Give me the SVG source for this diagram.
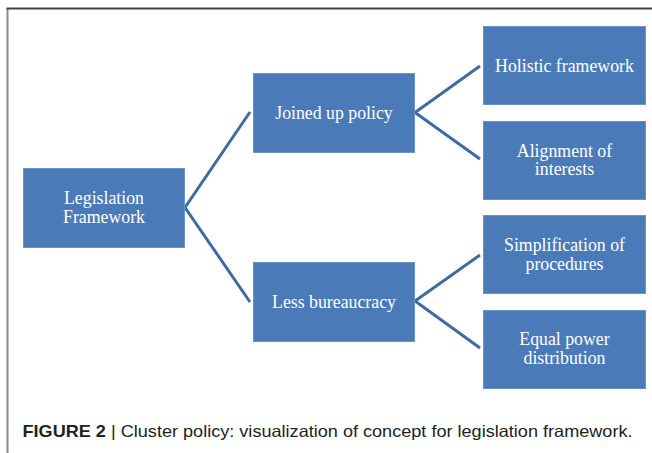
<svg xmlns="http://www.w3.org/2000/svg" width="652" height="453" viewBox="0 0 652 453">
  <style>
    .box { fill: #4a7bb8; stroke: #6a94c8; stroke-width: 1; }
    .lbl { fill: #ffffff; font-family: "Liberation Serif", "Times New Roman", serif; font-size: 17.8px; text-anchor: middle; }
    .link { fill: none; stroke: #3f6ba3; stroke-width: 3; stroke-linejoin: miter; }
    .cap { font-family: "Liberation Sans", Arial, sans-serif; font-size: 16.5px; fill: #222222; }
  </style>
  <rect width="652" height="453" fill="#ffffff"/>
  <!-- frame -->
  <line x1="7.5" y1="8" x2="7.5" y2="453" stroke="#8a8a8a" stroke-width="2"/>
  <line x1="6.5" y1="8.5" x2="652" y2="8.5" stroke="#444444" stroke-width="2"/>

  <g id="connectors">
    <polyline class="link" points="250,112 185,207.5 250,302"/>
    <polyline class="link" points="480,66 415,112.5 480,159"/>
    <polyline class="link" points="480,255 415,301 480,348"/>
  </g>

  <g id="legislation-framework">
    <rect class="box" x="23.5" y="168.5" width="161" height="79"/>
    <text class="lbl" x="104" y="203.5">Legislation</text>
    <text class="lbl" x="104" y="222.5">Framework</text>
  </g>
  <g id="joined-up-policy">
    <rect class="box" x="253.5" y="73.5" width="161" height="79"/>
    <text class="lbl" x="334" y="118.5">Joined up policy</text>
  </g>
  <g id="less-bureaucracy">
    <rect class="box" x="253.5" y="262.5" width="161" height="79"/>
    <text class="lbl" x="334" y="307.5">Less bureaucracy</text>
  </g>
  <g id="holistic-framework">
    <rect class="box" x="483.5" y="26.5" width="162" height="78"/>
    <text class="lbl" x="564.5" y="71.5">Holistic framework</text>
  </g>
  <g id="alignment-of-interests">
    <rect class="box" x="483.5" y="121.5" width="162" height="78"/>
    <text class="lbl" x="564.5" y="156.5">Alignment of</text>
    <text class="lbl" x="564.5" y="175.3">interests</text>
  </g>
  <g id="simplification-of-procedures">
    <rect class="box" x="483.5" y="215.5" width="162" height="78"/>
    <text class="lbl" x="564.5" y="251">Simplification of</text>
    <text class="lbl" x="564.5" y="270">procedures</text>
  </g>
  <g id="equal-power-distribution">
    <rect class="box" x="483.5" y="310.5" width="162" height="78"/>
    <text class="lbl" x="564.5" y="345.3">Equal power</text>
    <text class="lbl" x="564.5" y="364.2">distribution</text>
  </g>

  <text class="cap" x="22.5" y="437" textLength="610" lengthAdjust="spacingAndGlyphs"><tspan font-weight="bold">FIGURE 2</tspan> | Cluster policy: visualization of concept for legislation framework.</text>
</svg>
